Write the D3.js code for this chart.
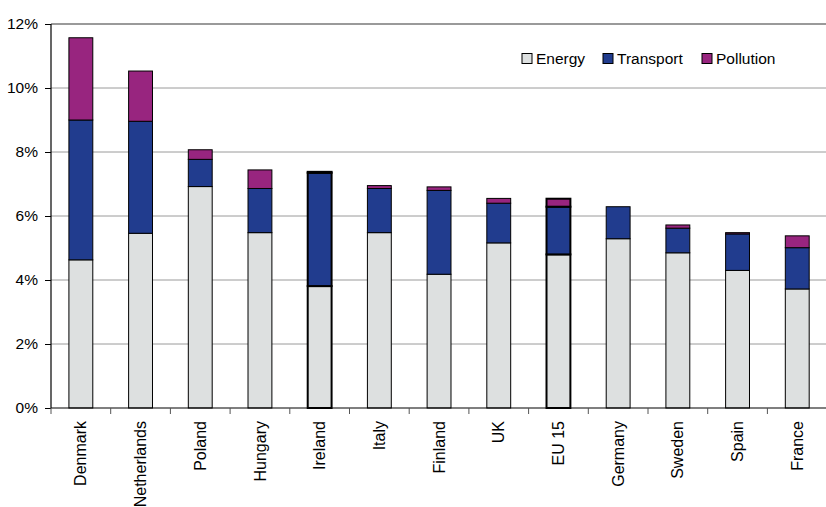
<!DOCTYPE html>
<html>
<head>
<meta charset="utf-8">
<script src="https://cdn.jsdelivr.net/npm/d3@7"></script>
<style>
  html, body { margin: 0; padding: 0; background: #fff; }
  svg { display: block; font-family: "Liberation Sans", Arial, sans-serif; }
</style>
</head>
<body>
<svg id="chart" width="826" height="507"></svg>
<script>
// Environmental tax revenue as share of total taxation, by component
const countries = ["Denmark", "Netherlands", "Poland", "Hungary", "Ireland", "Italy",
  "Finland", "UK", "EU 15", "Germany", "Sweden", "Spain", "France"];
const energy    = [4.63, 5.46, 6.92, 5.48, 3.81, 5.48, 4.18, 5.16, 4.80, 5.29, 4.85, 4.30, 3.72];
const transport = [4.37, 3.50, 0.85, 1.38, 3.54, 1.38, 2.62, 1.24, 1.49, 1.00, 0.77, 1.14, 1.29];
const pollution = [2.57, 1.57, 0.30, 0.58, 0.03, 0.09, 0.11, 0.15, 0.25, 0.00, 0.10, 0.04, 0.37];
const seriesNames = ["Energy", "Transport", "Pollution"];
const yTicks = [0, 2, 4, 6, 8, 10, 12];
const highlighted = ["Ireland", "EU 15"];

const colors = { Energy: "#dde0e0", Transport: "#213c8e", Pollution: "#98257f" };

const svg = d3.select("#chart");
const margin = { left: 51, top: 24, bottom: 408 };
const bandStep = 59.7;

const x = d3.scaleBand()
  .domain(countries)
  .range([margin.left, margin.left + bandStep * countries.length])
  .paddingInner(0.6)
  .paddingOuter(0.3);

const y = d3.scaleLinear().domain([0, 12]).range([margin.bottom, margin.top]);

// gridlines
svg.append("g")
  .selectAll("line")
  .data(yTicks.filter(t => t > 0))
  .join("line")
  .attr("x1", margin.left)
  .attr("x2", 826)
  .attr("y1", d => y(d))
  .attr("y2", d => y(d))
  .attr("stroke", "#9a9a9a")
  .attr("stroke-width", d => d === 12 ? 2 : 1);

// stacked bars
const rows = countries.map((c, i) => ({
  country: c, Energy: energy[i], Transport: transport[i], Pollution: pollution[i]
}));
const stacked = d3.stack().keys(seriesNames)(rows);

const layers = svg.append("g")
  .selectAll("g")
  .data(stacked)
  .join("g")
  .attr("fill", d => colors[d.key]);

layers.selectAll("rect")
  .data(d => d.filter(p => p[1] - p[0] > 0))
  .join("rect")
  .attr("x", p => x(p.data.country))
  .attr("width", x.bandwidth())
  .attr("y", p => y(p[1]))
  .attr("height", p => y(p[0]) - y(p[1]))
  .attr("stroke", "#000")
  .attr("stroke-width", p => highlighted.includes(p.data.country) ? 2 : 1);

// y axis
const yAxis = svg.append("g")
  .attr("transform", `translate(${margin.left},0)`)
  .call(d3.axisLeft(y).tickValues(yTicks).tickFormat(d => d + "%").tickSize(6).tickPadding(7));
yAxis.select(".domain").attr("stroke", "#000").attr("stroke-width", 1.2).attr("d", `M0,${y(12)}V${y(0)}`);
yAxis.selectAll(".tick line").attr("stroke", "#000");
yAxis.selectAll("text").attr("font-size", "15.5px").attr("fill", "#000")
  .attr("font-family", "Liberation Sans, Arial, sans-serif");

// x axis: ticks at band boundaries
const xAxisG = svg.append("g");
xAxisG.append("line")
  .attr("x1", margin.left).attr("x2", 826)
  .attr("y1", y(0)).attr("y2", y(0))
  .attr("stroke", "#000").attr("stroke-width", 1.2);
xAxisG.selectAll("line.tk")
  .data(countries)
  .join("line")
  .attr("class", "tk")
  .attr("x1", (d, i) => margin.left + i * bandStep)
  .attr("x2", (d, i) => margin.left + i * bandStep)
  .attr("y1", y(0)).attr("y2", y(0) + 6)
  .attr("stroke", "#555");
xAxisG.selectAll("text")
  .data(countries)
  .join("text")
  .attr("transform", d => `translate(${x(d) + x.bandwidth() / 2},${y(0) + 13}) rotate(-90)`)
  .attr("text-anchor", "end")
  .attr("dy", "0.35em")
  .attr("font-size", "16px")
  .attr("fill", "#000")
  .text(d => d);

// legend
const legendX = [522, 603, 702];
const legend = svg.append("g")
  .selectAll("g")
  .data(seriesNames)
  .join("g")
  .attr("transform", (d, i) => `translate(${legendX[i]},53.5)`);
legend.append("rect")
  .attr("width", 10).attr("height", 10)
  .attr("fill", d => colors[d])
  .attr("stroke", "#000").attr("stroke-width", 1);
legend.append("text")
  .attr("x", 14).attr("y", 10.5)
  .attr("font-size", "15.5px")
  .attr("fill", "#000")
  .text(d => d);
</script>
</body>
</html>
